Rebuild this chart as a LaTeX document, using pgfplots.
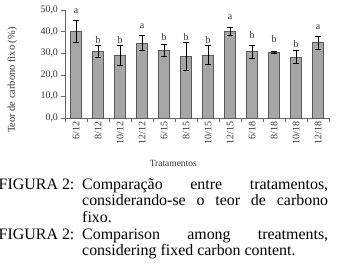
\documentclass[border=0pt]{standalone}
\usepackage{fontspec}
\setmainfont{Liberation Serif}
\usepackage{pgfplots}
\pgfplotsset{compat=1.18}
\begin{document}
\begin{tikzpicture}[x=1bp,y=1bp]
\begin{axis}[
  at={(65bp,-118bp)}, anchor=south west,
  scale only axis, width=264bp, height=108bp,
  xmin=-0.5, xmax=11.5, ymin=0, ymax=50,
  axis x line*=bottom, axis y line*=left,
  axis line style={black!60, line width=0.6pt},
  ytick={0,10,...,50},
  yticklabel style={/pgf/number format/.cd, use comma, fixed, fixed zerofill, precision=1},
  /pgf/number format/assume math mode=true,
  tick label style={font=\fontsize{10}{11}\selectfont, black!80},
  tick align=outside, major tick length=3.5bp,
  tick style={black!60, line width=0.5pt},
  xtick={-0.5,0.5,...,11.5}, xticklabels={},
  extra x ticks={0,1,2,3,4,5,6,7,8,9,10,11},
  extra x tick labels={6/12,8/12,10/12,12/12,6/15,8/15,10/15,12/15,6/18,8/18,10/18,12/18},
  extra x tick style={major tick length=0pt, xticklabel style={rotate=90, anchor=east, xshift=0pt, yshift=0pt}},
  ylabel={Teor de carbono fixo (\%)},
  every axis y label/.style={at={(axis description cs:-0.20,0.35)}, rotate=90, anchor=center, font=\fontsize{10.5}{12}\selectfont, black!80},
  xlabel={Tratamentos},
  every axis x label/.style={at={(axis description cs:0.41,-0.42)}, anchor=center, font=\fontsize{9.5}{10}\selectfont, black!80},
  clip=false,
]
\addplot[ybar, bar width=11bp, fill=black!35, draw=black!65, line width=0.5pt,
  error bars/.cd, y dir=both, y explicit,
  error bar style={black, line width=0.5pt},
  error mark options={rotate=90, mark size=3bp, black, line width=0.5pt}]
coordinates {
(0,40.1) +- (0,5.0)
(1,30.8) +- (0,2.8)
(2,29.2) +- (0,4.6)
(3,34.7) +- (0,3.4)
(4,31.5) +- (0,2.8)
(5,28.7) +- (0,6.5)
(6,29.2) +- (0,4.3)
(7,40.1) +- (0,2.0)
(8,30.8) +- (0,3.0)
(9,30.5) +- (0,0.6)
(10,28.2) +- (0,3.0)
(11,34.9) +- (0,2.9)
};
\addplot[draw=none, mark=none, nodes near coords, point meta=explicit symbolic,
  nodes near coords align={center},
  every node near coord/.append style={font=\fontsize{10}{11}\selectfont, black!80, inner sep=0pt}]
coordinates {
(0,49.3)[a]
(1,36.0)[b]
(2,36.0)[b]
(3,42.5)[a]
(4,37.3)[b]
(5,37.3)[b]
(6,36.3)[b]
(7,46.8)[a]
(8,38.3)[b]
(9,36.6)[b]
(10,34.3)[b]
(11,41.9)[a]
};
\end{axis}
\begin{scope}[font=\fontsize{16}{16.7}\selectfont]
\node[anchor=base west, inner sep=0pt] at (-1.5bp,-189.3bp) {FIGURA 2:};
\node[anchor=base west, inner sep=0pt] at (82bp,-189.3bp) {\parbox[t]{246bp}{\tolerance=10000\hyphenpenalty=10000\exhyphenpenalty=10000\parindent=0pt
Comparação entre tratamentos,\linebreak considerando-se o teor de carbono\linebreak fixo.}};
\node[anchor=base west, inner sep=0pt] at (-1.5bp,-239bp) {FIGURA 2:};
\node[anchor=base west, inner sep=0pt] at (82bp,-239bp) {\parbox[t]{246bp}{\tolerance=10000\hyphenpenalty=10000\exhyphenpenalty=10000\parindent=0pt
Comparison among treatments,\linebreak considering fixed carbon content.}};
\end{scope}
\pgfresetboundingbox
\path[use as bounding box] (0,0) rectangle (337bp,-277bp);
\end{tikzpicture}
\end{document}
